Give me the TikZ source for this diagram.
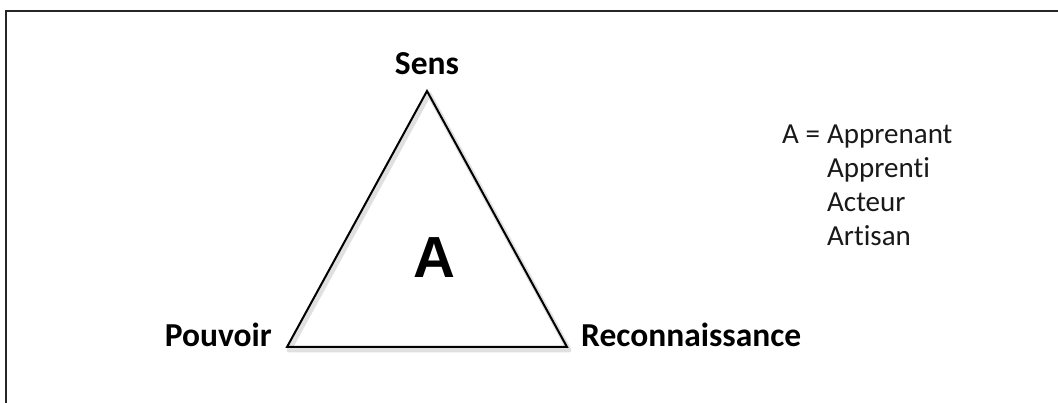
\documentclass[tikz,border=0pt]{standalone}
\usepackage{fontspec}
\setmainfont{Carlito}[Ligatures=NoCommon]
\newfontfamily\arialfont{Liberation Sans}
\begin{document}
\begin{tikzpicture}[x=1pt,y=-1pt,
  lbl/.style={font=\fontsize{33.5}{40}\selectfont\bfseries, text=black, inner sep=0pt, anchor=base},
  leg/.style={font=\fontsize{29}{35}\selectfont, text=black!90, inner sep=0pt, anchor=base west},
  frame/.style={draw=black!85, line width=2.5pt},
  tri/.style={draw=black, line width=2pt, line join=miter},
  trishadow/.style={draw=black, opacity=0.12, line width=5pt, line join=round}]
\useasboundingbox (0,0) rectangle (1058,403);
\fill[white] (0,0) rectangle (1058,403);
% frame (cropped)
\coordinate (fa) at (6,403);
\coordinate (fb) at (6,11);
\coordinate (fc) at (1058,11);
\draw[frame] (fa) -- (fb) -- (fc);
% triangle
\coordinate (top) at (427,91);
\coordinate (bl) at (287,347);
\coordinate (br) at (567,347);
\coordinate (tops) at (429,94);
\coordinate (bls) at (289,350);
\coordinate (brs) at (569,350);
\draw[trishadow] (tops) -- (bls) -- (brs) -- cycle;
\draw[tri] (top) -- (bl) -- (br) -- cycle;
% labels
\node[lbl] (sens) at (427,75) {Sens};
\node[lbl, anchor=base east] (pouvoir) at (272,347) {Pouvoir};
\node[lbl, anchor=base west] (reco) at (581,347) {Reconnaissance};
\node[font=\arialfont\fontsize{58}{60}\selectfont\bfseries, anchor=base, inner sep=0pt] (A) at (434,278) {A};
% legend
\node[leg] (aeq) at (782,144) {A =};
\node[leg] (l1) at (827,144) {Apprenant};
\node[leg] (l2) at (827,178) {Apprenti};
\node[leg] (l3) at (827,212) {Acteur};
\node[leg] (l4) at (827,246) {Artisan};
\end{tikzpicture}
\end{document}
